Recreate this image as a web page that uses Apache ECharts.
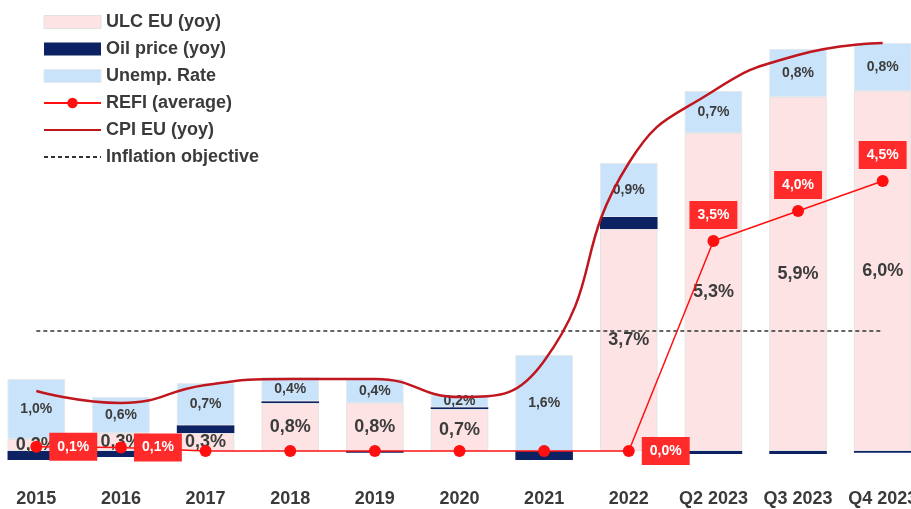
<!DOCTYPE html>
<html>
<head>
<meta charset="utf-8">
<script src="https://cdn.jsdelivr.net/npm/echarts@6/dist/echarts.min.js"></script>
<style>
  html, body { margin: 0; padding: 0; background: #fff; overflow: hidden; }
  /* the first and last bars sit slightly outside the frame, so the canvas is a bit wider */
  #chart { width: 931px; height: 509px; margin-left: -6px; }
</style>
</head>
<body>
<div id="chart"></div>
<script>
// x categories
const periods = ['2015', '2016', '2017', '2018', '2019', '2020', '2021', '2022', 'Q2 2023', 'Q3 2023', 'Q4 2023']
// stacked components (yoy, %)
const ulcEU = [0.2, 0.3, 0.3, 0.8, 0.8, 0.7, 0, 3.7, 5.3, 5.9, 6.0]
const oilPrice = [-0.15, -0.1, 0.13, 0.03, -0.03, 0.03, -0.15, 0.2, -0.05, -0.05, -0.03]
const unempRate = [1.0, 0.6, 0.7, 0.4, 0.4, 0.2, 1.6, 0.9, 0.7, 0.8, 0.8]
// lines
const refiAvg = [0.07, 0.06, 0, 0, 0, 0, 0, 0, 3.5, 4.0, 4.5]
const cpiEU = [1.0, 0.8, 1.1, 1.2, 1.2, 0.9, 1.5, 4.8, 6.0, 6.6, 6.8]
const inflationObjective = periods.map(() => 2.0)

const FONT = 'Liberation Sans, Arial, sans-serif'
const pct = v => v.toFixed(1).replace('.', ',') + '%'

const chart = echarts.init(document.getElementById('chart'))

// refi labels: boxed, only on a few points
const refiData = refiAvg.map((v, i) => {
  let label = { show: false }
  if (v >= 1) label = { show: true, position: 'top', distance: 6 }
  else if (i < 2 || i === 7) label = { show: true, position: 'right', distance: 7 }
  return { value: v, label }
})

const option = {
  animation: false,
  backgroundColor: '#fff',
  textStyle: { fontFamily: FONT },
  legend: {
    orient: 'vertical',
    left: 44,
    top: 8,
    itemWidth: 57,
    itemHeight: 13,
    itemGap: 9,
    textStyle: { fontSize: 18, fontWeight: 'bold', color: '#3a3a3a', fontFamily: FONT },
    data: [
      { name: 'ULC EU (yoy)', icon: 'rect', itemStyle: { borderColor: '#e2e2e2', borderWidth: 1 } },
      { name: 'Oil price (yoy)', icon: 'rect' },
      { name: 'Unemp. Rate', icon: 'rect', itemStyle: { borderColor: '#e2e8ee', borderWidth: 1 } },
      { name: 'REFI (average)' },
      { name: 'CPI EU (yoy)', itemStyle: { opacity: 0 } },
      { name: 'Inflation objective', itemStyle: { opacity: 0 } }
    ]
  },
  grid: {
    left: 0,
    right: 0,
    top: 1,
    height: 480
  },
  xAxis: {
    type: 'category',
    data: periods,
    axisLine: { show: false, onZero: false },
    axisTick: { show: false },
    axisLabel: {
      interval: 0,
      margin: 9,
      fontSize: 18,
      fontWeight: 'bold',
      color: '#3a3a3a',
      fontFamily: FONT
    }
  },
  yAxis: {
    type: 'value',
    show: false,
    min: -0.5,
    max: 7.5,
    splitLine: { show: false }
  },
  series: [
    {
      name: 'ULC EU (yoy)',
      type: 'bar',
      stack: 'cpi',
      barWidth: '68%',
      data: ulcEU,
      itemStyle: { color: '#fde3e3', borderColor: '#e4e4e4', borderWidth: 1 },
      label: {
        show: true,
        position: 'inside',
        fontSize: 18,
        fontWeight: 'bold',
        color: '#3c3c3c',
        fontFamily: FONT,
        formatter: p => (p.value === 0 ? '' : pct(p.value))
      }
    },
    {
      name: 'Oil price (yoy)',
      type: 'bar',
      stack: 'cpi',
      barWidth: '68%',
      data: oilPrice,
      itemStyle: { color: '#0c2263' }
    },
    {
      name: 'Unemp. Rate',
      type: 'bar',
      stack: 'cpi',
      barWidth: '68%',
      data: unempRate,
      itemStyle: { color: '#c9e4fa', borderColor: '#e2e8ee', borderWidth: 1 },
      label: {
        show: true,
        position: 'inside',
        fontSize: 14,
        fontWeight: 'bold',
        color: '#3c3c3c',
        fontFamily: FONT,
        formatter: p => pct(p.value)
      }
    },
    {
      name: 'Inflation objective',
      type: 'line',
      data: inflationObjective,
      symbol: 'none',
      lineStyle: { color: '#333', width: 1.5, type: [4, 3] },
      itemStyle: { color: '#333' },
      z: 3
    },
    {
      name: 'CPI EU (yoy)',
      type: 'line',
      data: cpiEU,
      smooth: 0.5,
      symbol: 'none',
      lineStyle: { color: '#c0161e', width: 2.5 },
      itemStyle: { color: '#c0161e' },
      label: {
        show: true,
        position: 'top',
        distance: 20,
        fontSize: 17,
        fontWeight: 'bold',
        color: '#cc1f27',
        fontFamily: FONT,
        formatter: p => pct(p.value)
      },
      z: 4
    },
    {
      name: 'REFI (average)',
      type: 'line',
      data: refiData,
      symbol: 'circle',
      symbolSize: 12,
      lineStyle: { color: '#ff1010', width: 1.5 },
      itemStyle: { color: '#ff1010' },
      label: {
        fontSize: 14,
        fontWeight: 'bold',
        color: '#fff',
        backgroundColor: '#ff2b2b',
        padding: [7, 8],
        fontFamily: FONT,
        formatter: p => pct(p.value)
      },
      z: 5
    }
  ]
}

chart.setOption(option)
</script>
</body>
</html>
